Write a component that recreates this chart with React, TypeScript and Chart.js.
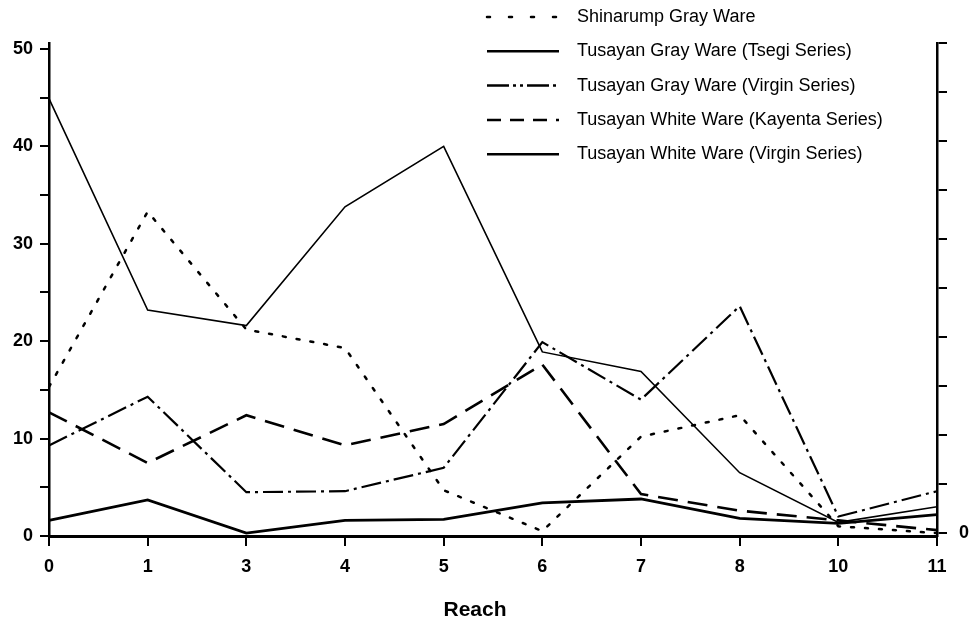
import React, { useEffect, useRef } from 'react';
import { Chart, registerables } from 'chart.js';

Chart.register(...registerables);

const reaches = ['0', '1', '3', '4', '5', '6', '7', '8', '10', '11'];
const shinarumpGray = [15.3, 33.3, 21.2, 19.3, 4.7, 0.5, 10.2, 12.4, 1.0, 0.3];
const tsegiGray = [44.9, 23.2, 21.6, 33.8, 40.0, 18.9, 16.9, 6.5, 1.4, 3.0];
const virginGray = [9.3, 14.3, 4.5, 4.6, 7.0, 19.9, 14.0, 23.6, 2.0, 4.6];
const kayentaWhite = [12.7, 7.5, 12.4, 9.3, 11.5, 17.6, 4.3, 2.6, 1.6, 0.6];
const virginWhite = [1.6, 3.7, 0.3, 1.6, 1.7, 3.4, 3.8, 1.8, 1.3, 2.2];

const leftTicks = [0, 5, 10, 15, 20, 25, 30, 35, 40, 45, 50];
const rightTicks = [0, 1, 2, 3, 4, 5, 6, 7, 8, 9, 10];

const seriesLabels = [
  'Shinarump Gray Ware',
  'Tusayan Gray Ware (Tsegi Series)',
  'Tusayan Gray Ware (Virgin Series)',
  'Tusayan White Ware (Kayenta Series)',
  'Tusayan White Ware (Virgin Series)',
];

const FONT = "'Liberation Sans', Arial, Helvetica, sans-serif";
const legendDashes = [[3, 19], [], [22, 4, 3, 4, 3, 4], [14, 9], []];

const legendPlugin = {
  id: 'customLegend',
  afterDraw(chart: any) {
    const ctx = chart.ctx;
    ctx.save();
    chart.data.datasets.forEach((ds: any, i: number) => {
      const y = 17 + i * 34.3;
      ctx.beginPath();
      ctx.setLineDash(legendDashes[i]);
      ctx.lineWidth = 2.5;
      ctx.lineCap = i === 0 ? 'round' : 'butt';
      ctx.strokeStyle = '#000';
      ctx.moveTo(487, y);
      ctx.lineTo(559, y);
      ctx.stroke();
      ctx.setLineDash([]);
      ctx.fillStyle = '#000';
      ctx.font = `18px ${FONT}`;
      ctx.textAlign = 'left';
      ctx.textBaseline = 'middle';
      ctx.fillText(ds.label, 577, y);
    });
    ctx.font = `bold 21px ${FONT}`;
    ctx.textAlign = 'center';
    ctx.textBaseline = 'middle';
    ctx.fillText('Reach', 475, 610);
    ctx.restore();
  },
};

export default function App() {
  const ref = useRef<HTMLCanvasElement>(null);

  useEffect(() => {
    document.body.style.margin = '0';
    const canvas = ref.current;
    if (!canvas) return;
    const chart = new Chart(canvas, {
      type: 'line',
      data: {
        labels: reaches,
        datasets: [
          {
            label: seriesLabels[0],
            data: shinarumpGray,
            borderColor: '#000',
            borderWidth: 2.5,
            borderDash: [3, 11],
            borderCapStyle: 'round',
            pointRadius: 0,
            tension: 0,
            yAxisID: 'y',
          },
          {
            label: seriesLabels[1],
            data: tsegiGray,
            borderColor: '#000',
            borderWidth: 1.6,
            pointRadius: 0,
            tension: 0,
            yAxisID: 'y',
          },
          {
            label: seriesLabels[2],
            data: virginGray,
            borderColor: '#000',
            borderWidth: 2.2,
            borderDash: [20, 5, 3, 5],
            pointRadius: 0,
            tension: 0,
            yAxisID: 'y',
          },
          {
            label: seriesLabels[3],
            data: kayentaWhite,
            borderColor: '#000',
            borderWidth: 2.6,
            borderDash: [20, 10],
            pointRadius: 0,
            tension: 0,
            yAxisID: 'y',
          },
          {
            label: seriesLabels[4],
            data: virginWhite,
            borderColor: '#000',
            borderWidth: 2.8,
            pointRadius: 0,
            tension: 0,
            yAxisID: 'y',
          },
        ],
      },
      options: {
        responsive: false,
        animation: false,
        layout: { padding: { top: 43, left: 0, right: 0, bottom: 0 } },
        plugins: {
          legend: { display: false },
          tooltip: { enabled: false },
        },
        scales: {
          x: {
            type: 'category',
            offset: false,
            grid: {
              display: true,
              drawOnChartArea: false,
              drawTicks: true,
              tickLength: 10,
              color: '#000',
              lineWidth: 2,
            },
            border: { display: true, color: '#000', width: 3 },
            ticks: {
              color: '#000',
              font: { family: FONT, size: 18, weight: 'bold' },
              padding: 10,
              autoSkip: false,
              maxRotation: 0,
            },
            afterFit: (s: any) => {
              s.height = 92;
            },
          },
          y: {
            type: 'linear',
            position: 'left',
            min: 0,
            max: 50.616,
            afterBuildTicks: (s: any) => {
              s.ticks = leftTicks.map((v) => ({ value: v }));
            },
            grid: {
              display: true,
              drawOnChartArea: false,
              drawTicks: true,
              tickLength: 9,
              color: '#000',
              lineWidth: 2,
            },
            border: { display: true, color: '#000', width: 2.5 },
            ticks: {
              color: '#000',
              font: { family: FONT, size: 18, weight: 'bold' },
              padding: 7,
              callback: (v: any) => (Number(v) % 10 === 0 ? String(v) : ''),
            },
            afterFit: (s: any) => {
              s.width = 49;
            },
          },
          y2: {
            type: 'linear',
            position: 'right',
            min: -0.0612,
            max: 10,
            afterBuildTicks: (s: any) => {
              s.ticks = rightTicks.map((v) => ({ value: v }));
            },
            grid: {
              display: true,
              drawOnChartArea: false,
              drawTicks: true,
              tickLength: 10,
              color: '#000',
              lineWidth: 2,
            },
            border: { display: true, color: '#000', width: 2.5 },
            ticks: {
              color: '#000',
              font: { family: FONT, size: 18, weight: 'bold' },
              padding: 12,
              callback: (v: any) => (Number(v) === 0 ? '0' : ''),
            },
            afterFit: (s: any) => {
              s.width = 37;
            },
          },
        },
      },
      plugins: [legendPlugin],
    } as any);
    return () => chart.destroy();
  }, []);

  return (
    <div style={{ position: 'absolute', left: 0, top: 0, width: 974, height: 628, background: '#fff' }}>
      <canvas ref={ref} width={974} height={628} style={{ display: 'block' }} />
    </div>
  );
}
